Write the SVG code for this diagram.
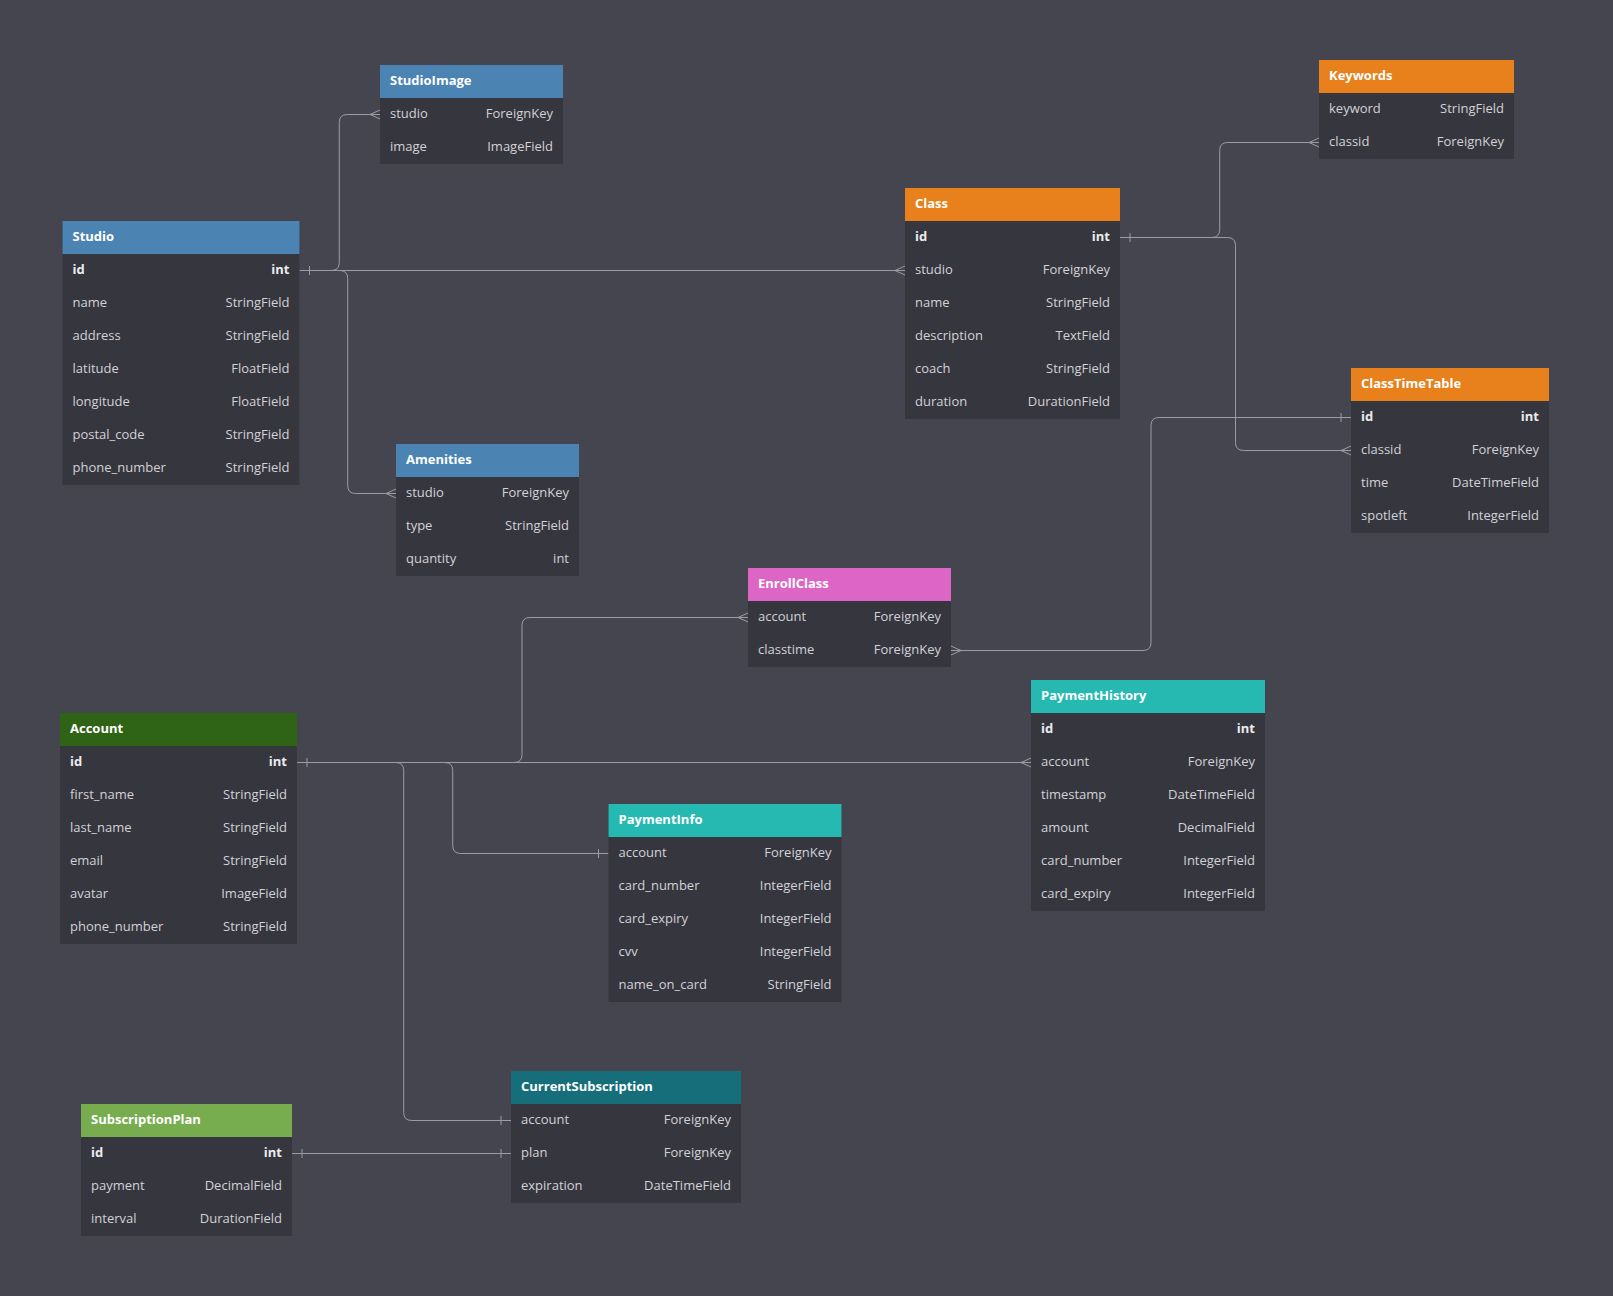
<svg xmlns="http://www.w3.org/2000/svg" xmlns:xlink="http://www.w3.org/1999/xlink" width="1613" height="1296" viewBox="0 0 1613 1296">
<style>
.body{fill:#36363e}
.hd{font-family:"Open Sans","Noto Sans",sans-serif;font-size:13px;font-weight:700;fill:#ffffff}
.f{font-family:"Open Sans","Noto Sans",sans-serif;font-size:13px;fill:#d2d2d6}
.t{font-family:"Open Sans","Noto Sans",sans-serif;font-size:13px;fill:#d2d2d6;text-anchor:end}
.b{font-weight:700;fill:#ececee}
.c{fill:none;stroke:#9c9ca4;stroke-width:1}
.blue{fill:#4b83b3}
.orange{fill:#e8801c}
.pink{fill:#dd65c5}
.teal{fill:#25b9b1}
.dteal{fill:#166e7a}
.dgreen{fill:#2f6315}
.lgreen{fill:#78ad4f}
</style>
<defs>
<path id="crowL" d="M-10 0L0 -4.5M-10 0L0 4.5" fill="none" stroke="#9c9ca4" stroke-width="1"/>
<path id="crowR" d="M10 0L0 -4.5M10 0L0 4.5" fill="none" stroke="#9c9ca4" stroke-width="1"/>
<path id="tick" d="M0 -4.5V4.5" fill="none" stroke="#9c9ca4" stroke-width="1"/>
</defs>
<rect width="1613" height="1296" fill="#45454f"/>

<g id="connectors">
<path class="c" d="M299.5 270.5H331.3Q339.3 270.5 339.3 262.5V122.5Q339.3 114.5 347.3 114.5H380"/>
<path class="c" d="M299.5 270.5H905"/>
<path class="c" d="M299.5 270.5H339.7Q347.7 270.5 347.7 278.5V485.5Q347.7 493.5 355.7 493.5H396"/>
<path class="c" d="M1120 237.5H1211.7Q1219.7 237.5 1219.7 229.5V150.5Q1219.7 142.5 1227.7 142.5H1319"/>
<path class="c" d="M1120 237.5H1227.5Q1235.5 237.5 1235.5 245.5V442.5Q1235.5 450.5 1243.5 450.5H1351"/>
<path class="c" d="M1351 417.5H1159Q1151 417.5 1151 425.5V642.5Q1151 650.5 1143 650.5H951"/>
<path class="c" d="M297 762.5H514Q522 762.5 522 754.5V625.5Q522 617.5 530 617.5H748"/>
<path class="c" d="M297 762.5H1031"/>
<path class="c" d="M297 762.5H444.7Q452.7 762.5 452.7 770.5V845.5Q452.7 853.5 460.7 853.5H608.5"/>
<path class="c" d="M297 762.5H395.7Q403.7 762.5 403.7 770.5V1112.5Q403.7 1120.5 411.7 1120.5H511"/>
<path class="c" d="M292 1153.5H511"/>
<use xlink:href="#tick" x="309.5" y="270.5"/>
<use xlink:href="#crowL" x="380" y="114.5"/>
<use xlink:href="#crowL" x="905" y="270.5"/>
<use xlink:href="#crowL" x="396" y="493.5"/>
<use xlink:href="#tick" x="1130" y="237.5"/>
<use xlink:href="#crowL" x="1319" y="142.5"/>
<use xlink:href="#crowL" x="1351" y="450.5"/>
<use xlink:href="#tick" x="1341" y="417.5"/>
<use xlink:href="#crowR" x="951" y="650.5"/>
<use xlink:href="#tick" x="307" y="762.5"/>
<use xlink:href="#crowL" x="748" y="617.5"/>
<use xlink:href="#crowL" x="1031" y="762.5"/>
<use xlink:href="#tick" x="598.5" y="853.5"/>
<use xlink:href="#tick" x="501" y="1120.5"/>
<use xlink:href="#tick" x="302" y="1153.5"/>
<use xlink:href="#tick" x="501" y="1153.5"/>
</g>

<g id="StudioImage" transform="translate(380,65)">
<rect class="body" width="183" height="99"/>
<rect class="blue" width="183" height="33"/>
<text class="hd" x="10" y="20">StudioImage</text>
<text class="f" x="10" y="53">studio</text><text class="t" x="173" y="53">ForeignKey</text>
<text class="f" x="10" y="86">image</text><text class="t" x="173" y="86">ImageField</text>
</g>

<g id="Studio" transform="translate(62.5,221)">
<rect class="body" width="237" height="264"/>
<rect class="blue" width="237" height="33"/>
<text class="hd" x="10" y="20">Studio</text>
<text class="f b" x="10" y="53">id</text><text class="t b" x="227" y="53">int</text>
<text class="f" x="10" y="86">name</text><text class="t" x="227" y="86">StringField</text>
<text class="f" x="10" y="119">address</text><text class="t" x="227" y="119">StringField</text>
<text class="f" x="10" y="152">latitude</text><text class="t" x="227" y="152">FloatField</text>
<text class="f" x="10" y="185">longitude</text><text class="t" x="227" y="185">FloatField</text>
<text class="f" x="10" y="218">postal_code</text><text class="t" x="227" y="218">StringField</text>
<text class="f" x="10" y="251">phone_number</text><text class="t" x="227" y="251">StringField</text>
</g>

<g id="Amenities" transform="translate(396,444)">
<rect class="body" width="183" height="132"/>
<rect class="blue" width="183" height="33"/>
<text class="hd" x="10" y="20">Amenities</text>
<text class="f" x="10" y="53">studio</text><text class="t" x="173" y="53">ForeignKey</text>
<text class="f" x="10" y="86">type</text><text class="t" x="173" y="86">StringField</text>
<text class="f" x="10" y="119">quantity</text><text class="t" x="173" y="119">int</text>
</g>

<g id="Class" transform="translate(905,188)">
<rect class="body" width="215" height="231"/>
<rect class="orange" width="215" height="33"/>
<text class="hd" x="10" y="20">Class</text>
<text class="f b" x="10" y="53">id</text><text class="t b" x="205" y="53">int</text>
<text class="f" x="10" y="86">studio</text><text class="t" x="205" y="86">ForeignKey</text>
<text class="f" x="10" y="119">name</text><text class="t" x="205" y="119">StringField</text>
<text class="f" x="10" y="152">description</text><text class="t" x="205" y="152">TextField</text>
<text class="f" x="10" y="185">coach</text><text class="t" x="205" y="185">StringField</text>
<text class="f" x="10" y="218">duration</text><text class="t" x="205" y="218">DurationField</text>
</g>

<g id="Keywords" transform="translate(1319,60)">
<rect class="body" width="195" height="99"/>
<rect class="orange" width="195" height="33"/>
<text class="hd" x="10" y="20">Keywords</text>
<text class="f" x="10" y="53">keyword</text><text class="t" x="185" y="53">StringField</text>
<text class="f" x="10" y="86">classid</text><text class="t" x="185" y="86">ForeignKey</text>
</g>

<g id="ClassTimeTable" transform="translate(1351,368)">
<rect class="body" width="198" height="165"/>
<rect class="orange" width="198" height="33"/>
<text class="hd" x="10" y="20">ClassTimeTable</text>
<text class="f b" x="10" y="53">id</text><text class="t b" x="188" y="53">int</text>
<text class="f" x="10" y="86">classid</text><text class="t" x="188" y="86">ForeignKey</text>
<text class="f" x="10" y="119">time</text><text class="t" x="188" y="119">DateTimeField</text>
<text class="f" x="10" y="152">spotleft</text><text class="t" x="188" y="152">IntegerField</text>
</g>

<g id="EnrollClass" transform="translate(748,568)">
<rect class="body" width="203" height="99"/>
<rect class="pink" width="203" height="33"/>
<text class="hd" x="10" y="20">EnrollClass</text>
<text class="f" x="10" y="53">account</text><text class="t" x="193" y="53">ForeignKey</text>
<text class="f" x="10" y="86">classtime</text><text class="t" x="193" y="86">ForeignKey</text>
</g>

<g id="PaymentHistory" transform="translate(1031,680)">
<rect class="body" width="234" height="231"/>
<rect class="teal" width="234" height="33"/>
<text class="hd" x="10" y="20">PaymentHistory</text>
<text class="f b" x="10" y="53">id</text><text class="t b" x="224" y="53">int</text>
<text class="f" x="10" y="86">account</text><text class="t" x="224" y="86">ForeignKey</text>
<text class="f" x="10" y="119">timestamp</text><text class="t" x="224" y="119">DateTimeField</text>
<text class="f" x="10" y="152">amount</text><text class="t" x="224" y="152">DecimalField</text>
<text class="f" x="10" y="185">card_number</text><text class="t" x="224" y="185">IntegerField</text>
<text class="f" x="10" y="218">card_expiry</text><text class="t" x="224" y="218">IntegerField</text>
</g>

<g id="Account" transform="translate(60,713)">
<rect class="body" width="237" height="231"/>
<rect class="dgreen" width="237" height="33"/>
<text class="hd" x="10" y="20">Account</text>
<text class="f b" x="10" y="53">id</text><text class="t b" x="227" y="53">int</text>
<text class="f" x="10" y="86">first_name</text><text class="t" x="227" y="86">StringField</text>
<text class="f" x="10" y="119">last_name</text><text class="t" x="227" y="119">StringField</text>
<text class="f" x="10" y="152">email</text><text class="t" x="227" y="152">StringField</text>
<text class="f" x="10" y="185">avatar</text><text class="t" x="227" y="185">ImageField</text>
<text class="f" x="10" y="218">phone_number</text><text class="t" x="227" y="218">StringField</text>
</g>

<g id="PaymentInfo" transform="translate(608.5,804)">
<rect class="body" width="233" height="198"/>
<rect class="teal" width="233" height="33"/>
<text class="hd" x="10" y="20">PaymentInfo</text>
<text class="f" x="10" y="53">account</text><text class="t" x="223" y="53">ForeignKey</text>
<text class="f" x="10" y="86">card_number</text><text class="t" x="223" y="86">IntegerField</text>
<text class="f" x="10" y="119">card_expiry</text><text class="t" x="223" y="119">IntegerField</text>
<text class="f" x="10" y="152">cvv</text><text class="t" x="223" y="152">IntegerField</text>
<text class="f" x="10" y="185">name_on_card</text><text class="t" x="223" y="185">StringField</text>
</g>

<g id="CurrentSubscription" transform="translate(511,1071)">
<rect class="body" width="230" height="132"/>
<rect class="dteal" width="230" height="33"/>
<text class="hd" x="10" y="20">CurrentSubscription</text>
<text class="f" x="10" y="53">account</text><text class="t" x="220" y="53">ForeignKey</text>
<text class="f" x="10" y="86">plan</text><text class="t" x="220" y="86">ForeignKey</text>
<text class="f" x="10" y="119">expiration</text><text class="t" x="220" y="119">DateTimeField</text>
</g>

<g id="SubscriptionPlan" transform="translate(81,1104)">
<rect class="body" width="211" height="132"/>
<rect class="lgreen" width="211" height="33"/>
<text class="hd" x="10" y="20">SubscriptionPlan</text>
<text class="f b" x="10" y="53">id</text><text class="t b" x="201" y="53">int</text>
<text class="f" x="10" y="86">payment</text><text class="t" x="201" y="86">DecimalField</text>
<text class="f" x="10" y="119">interval</text><text class="t" x="201" y="119">DurationField</text>
</g>
</svg>
